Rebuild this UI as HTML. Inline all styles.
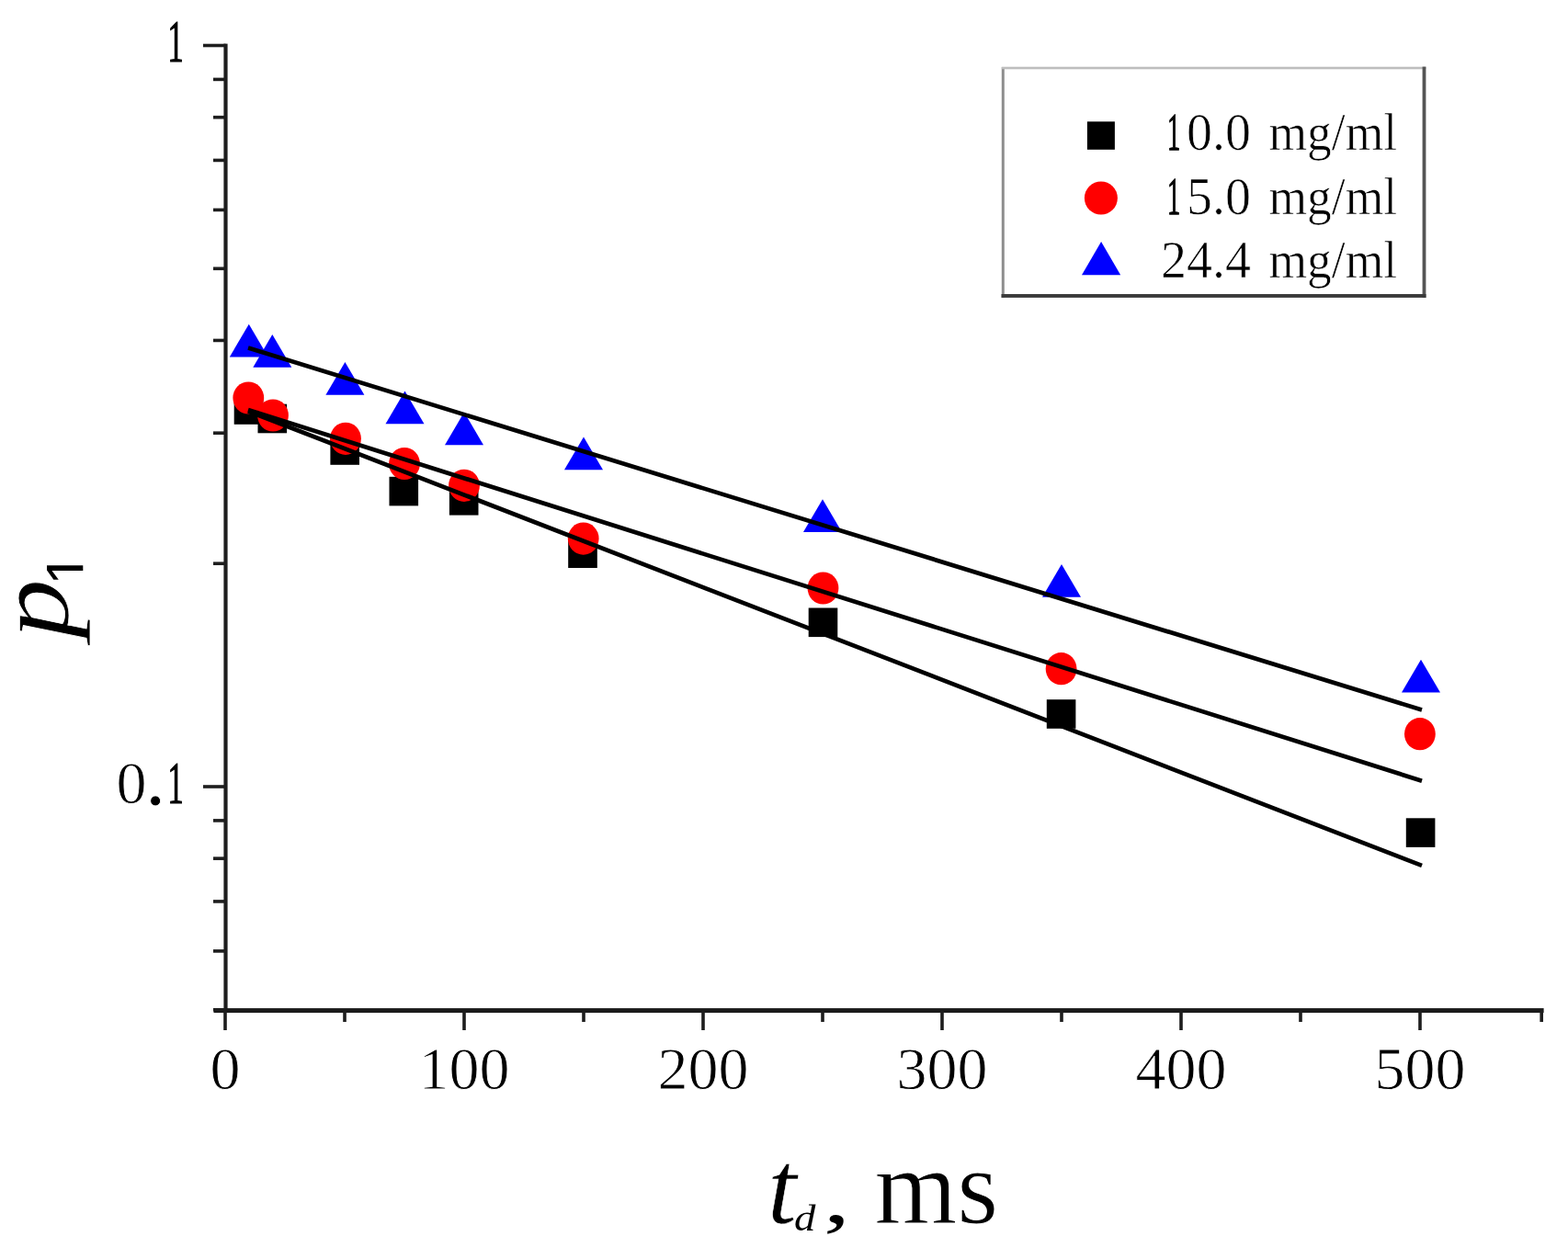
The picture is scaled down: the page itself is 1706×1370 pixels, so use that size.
<!DOCTYPE html>
<html><head><meta charset="utf-8"><style>
html,body{margin:0;padding:0;background:#fff;}
svg{display:block;}
</style></head><body>
<svg width="1706" height="1370" viewBox="0 0 1706 1370">
<rect width="1706" height="1370" fill="#fff"/>
<g fill="#1e1e1e">
<rect x="243.40" y="47.60" width="4.20" height="1054.10" fill="#1e1e1e"/>
<rect x="232.50" y="1097.10" width="1447.10" height="5.00" fill="#1a1a1a"/>
<rect x="221.00" y="47.70" width="24.50" height="3.60" fill="#1e1e1e"/>
<rect x="221.00" y="854.20" width="24.50" height="3.60" fill="#1e1e1e"/>
<rect x="232.00" y="1096.98" width="13.50" height="3.60" fill="#1e1e1e"/>
<rect x="232.00" y="1033.12" width="13.50" height="3.60" fill="#1e1e1e"/>
<rect x="232.00" y="979.13" width="13.50" height="3.60" fill="#1e1e1e"/>
<rect x="232.00" y="932.36" width="13.50" height="3.60" fill="#1e1e1e"/>
<rect x="232.00" y="891.10" width="13.50" height="3.60" fill="#1e1e1e"/>
<rect x="232.00" y="611.42" width="13.50" height="3.60" fill="#1e1e1e"/>
<rect x="232.00" y="469.40" width="13.50" height="3.60" fill="#1e1e1e"/>
<rect x="232.00" y="368.64" width="13.50" height="3.60" fill="#1e1e1e"/>
<rect x="232.00" y="290.48" width="13.50" height="3.60" fill="#1e1e1e"/>
<rect x="232.00" y="226.62" width="13.50" height="3.60" fill="#1e1e1e"/>
<rect x="232.00" y="172.63" width="13.50" height="3.60" fill="#1e1e1e"/>
<rect x="232.00" y="125.86" width="13.50" height="3.60" fill="#1e1e1e"/>
<rect x="232.00" y="84.60" width="13.50" height="3.60" fill="#1e1e1e"/>
<rect x="243.20" y="1099.60" width="3.60" height="21.40" fill="#1e1e1e"/>
<rect x="503.20" y="1099.60" width="3.60" height="21.40" fill="#1e1e1e"/>
<rect x="763.20" y="1099.60" width="3.60" height="21.40" fill="#1e1e1e"/>
<rect x="1023.20" y="1099.60" width="3.60" height="21.40" fill="#1e1e1e"/>
<rect x="1283.20" y="1099.60" width="3.60" height="21.40" fill="#1e1e1e"/>
<rect x="1543.20" y="1099.60" width="3.60" height="21.40" fill="#1e1e1e"/>
<rect x="373.20" y="1099.60" width="3.60" height="12.40" fill="#1e1e1e"/>
<rect x="633.20" y="1099.60" width="3.60" height="12.40" fill="#1e1e1e"/>
<rect x="893.20" y="1099.60" width="3.60" height="12.40" fill="#1e1e1e"/>
<rect x="1153.20" y="1099.60" width="3.60" height="12.40" fill="#1e1e1e"/>
<rect x="1413.20" y="1099.60" width="3.60" height="12.40" fill="#1e1e1e"/>
<rect x="1675.40" y="1099.60" width="3.60" height="12.40" fill="#1e1e1e"/>
</g>
<rect x="254.70" y="430.20" width="31.60" height="31.60" fill="#000"/>
<rect x="280.50" y="439.70" width="31.60" height="31.60" fill="#000"/>
<rect x="359.40" y="474.20" width="31.60" height="31.60" fill="#000"/>
<rect x="423.50" y="518.80" width="31.60" height="31.60" fill="#000"/>
<rect x="488.90" y="529.00" width="31.60" height="31.60" fill="#000"/>
<rect x="618.20" y="586.40" width="31.60" height="31.60" fill="#000"/>
<rect x="879.70" y="661.50" width="31.60" height="31.60" fill="#000"/>
<rect x="1138.80" y="761.20" width="31.60" height="31.60" fill="#000"/>
<rect x="1529.80" y="890.30" width="31.60" height="31.60" fill="#000"/>
<ellipse cx="270.30" cy="433.00" rx="16.9" ry="17.6" fill="#ff0000"/>
<ellipse cx="297.00" cy="452.00" rx="16.9" ry="17.6" fill="#ff0000"/>
<ellipse cx="376.00" cy="477.30" rx="16.9" ry="17.6" fill="#ff0000"/>
<ellipse cx="440.00" cy="504.50" rx="16.9" ry="17.6" fill="#ff0000"/>
<ellipse cx="505.00" cy="528.30" rx="16.9" ry="17.6" fill="#ff0000"/>
<ellipse cx="634.70" cy="586.10" rx="16.9" ry="17.6" fill="#ff0000"/>
<ellipse cx="895.50" cy="640.00" rx="16.9" ry="17.6" fill="#ff0000"/>
<ellipse cx="1154.60" cy="727.70" rx="16.9" ry="17.6" fill="#ff0000"/>
<ellipse cx="1544.90" cy="798.70" rx="16.9" ry="17.6" fill="#ff0000"/>
<polygon points="249.80,388.50 291.80,388.50 270.80,352.70" fill="#0000ff"/>
<polygon points="275.30,399.80 317.30,399.80 296.30,364.00" fill="#0000ff"/>
<polygon points="354.40,429.70 396.40,429.70 375.40,393.90" fill="#0000ff"/>
<polygon points="419.50,461.30 461.50,461.30 440.50,425.50" fill="#0000ff"/>
<polygon points="484.00,484.20 526.00,484.20 505.00,448.40" fill="#0000ff"/>
<polygon points="614.00,511.20 656.00,511.20 635.00,475.40" fill="#0000ff"/>
<polygon points="874.00,579.10 916.00,579.10 895.00,543.30" fill="#0000ff"/>
<polygon points="1134.00,649.80 1176.00,649.80 1155.00,614.00" fill="#0000ff"/>
<polygon points="1525.00,753.50 1567.00,753.50 1546.00,717.70" fill="#0000ff"/>
<line x1="270" y1="378.6" x2="1547" y2="772.5" stroke="#000" stroke-width="4.7"/>
<line x1="270" y1="446.1" x2="1547" y2="849.7" stroke="#000" stroke-width="4.7"/>
<line x1="270" y1="447.5" x2="1547" y2="941.9" stroke="#000" stroke-width="4.7"/>
<rect x="1091.5" y="74" width="458" height="248" fill="#fff" stroke="none"/>
<rect x="1089.8" y="73" width="3.0" height="251" fill="#8e8e8e"/>
<rect x="1089.8" y="72.7" width="461.6" height="2.6" fill="#bebebe"/>
<rect x="1547.6" y="72.6" width="3.8" height="251.4" fill="#555"/>
<rect x="1089.5" y="320" width="462" height="3.9" fill="#3a3a3a"/>
<rect x="1182.90" y="132.30" width="30.00" height="30.50" fill="#000"/>
<circle cx="1197.9" cy="215.5" r="18" fill="#ff0000"/>
<polygon points="1177,299.2 1219.2,299.2 1198.1,262.9" fill="#0000ff"/>
<g font-family="Liberation Serif, serif" font-size="56" fill="#000" stroke="#fff" stroke-width="0.7">
<text y="163"><tspan x="1270" textLength="14.2" lengthAdjust="spacingAndGlyphs" stroke="#000" stroke-width="1.3">1</tspan><tspan x="1291">0.0</tspan> <tspan x="1380.5" textLength="139.7" lengthAdjust="spacingAndGlyphs">mg/ml</tspan></text>
<text y="233"><tspan x="1270" textLength="14.2" lengthAdjust="spacingAndGlyphs" stroke="#000" stroke-width="1.3">1</tspan><tspan x="1291">5.0</tspan> <tspan x="1380.5" textLength="139.7" lengthAdjust="spacingAndGlyphs">mg/ml</tspan></text>
<text y="301.5"><tspan x="1263">24.4</tspan> <tspan x="1380.5" textLength="139.7" lengthAdjust="spacingAndGlyphs">mg/ml</tspan></text>
</g>
<g font-family="Liberation Serif, serif" font-size="66" fill="#000" stroke="#fff" stroke-width="0.8">
<text x="182.2" y="66.6" textLength="17.6" lengthAdjust="spacingAndGlyphs" stroke="#000" stroke-width="1.1">1</text>
<text x="126.5" y="874">0<tspan x="157.4" y="876" font-size="93">.</tspan><tspan x="182.2" y="874" textLength="17.6" lengthAdjust="spacingAndGlyphs" stroke="#000" stroke-width="1.1">1</tspan></text>
<text x="245.0" y="1185" text-anchor="middle">0</text>
<text x="505.0" y="1185" text-anchor="middle">100</text>
<text x="765.0" y="1185" text-anchor="middle">200</text>
<text x="1025.0" y="1185" text-anchor="middle">300</text>
<text x="1285.0" y="1185" text-anchor="middle">400</text>
<text x="1545.0" y="1185" text-anchor="middle">500</text>
</g>
<g font-family="Liberation Serif, serif" fill="#000" stroke="#fff" stroke-width="1.0">
<text><tspan x="835" y="1330.6" font-size="114" font-style="italic" stroke-width="0.6">t</tspan><tspan x="864" y="1339" font-size="41" font-style="italic" stroke="none" textLength="23.4" lengthAdjust="spacingAndGlyphs">d</tspan><tspan x="895.7" y="1329.7" font-size="80" stroke="none" textLength="29.4" lengthAdjust="spacingAndGlyphs">,</tspan> <tspan x="951.5" y="1331" font-size="115.5">ms</tspan></text>
<clipPath id="c1"><rect x="40" y="580" width="50.3" height="52"/><rect x="0" y="633" width="130" height="90"/></clipPath>
<g clip-path="url(#c1)"><text transform="translate(74,695) rotate(-90)"><tspan font-size="115" font-style="italic" stroke-width="0.7" textLength="65.1" lengthAdjust="spacingAndGlyphs">p</tspan><tspan x="58" y="21.5" font-size="64" font-family="Liberation Sans, sans-serif" stroke="none">1</tspan></text></g>
</g>
</svg>
</body></html>
